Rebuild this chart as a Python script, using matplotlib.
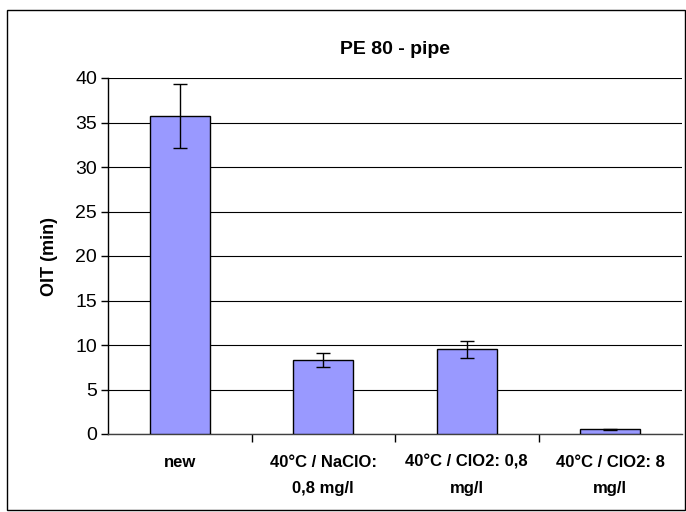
import matplotlib
matplotlib.use('Agg')
import matplotlib.pyplot as plt
from matplotlib.patches import Rectangle

# data
categories = ['new', '40°C / NaClO:\n0,8 mg/l', '40°C / ClO2: 0,8\nmg/l', '40°C / ClO2: 8\nmg/l']
oit_values = [35.7, 8.3, 9.5, 0.55]
oit_errors = [3.6, 0.8, 0.95, 0.05]
y_ticks = [0, 5, 10, 15, 20, 25, 30, 35, 40]

plt.rcParams['font.family'] = ['Liberation Sans', 'DejaVu Sans']

fig = plt.figure(figsize=(6.86, 5.12), dpi=100)
ax = fig.add_axes([108 / 686, 78 / 512, 574 / 686, 356 / 512])

# outer chart border
fig.patches.append(Rectangle((7 / 686, 2 / 512), 678 / 686, 500 / 512,
                             transform=fig.transFigure, fill=False,
                             edgecolor='black', linewidth=1.0))

x = list(range(len(categories)))
ax.bar(x, oit_values, width=0.42, color='#9999FF', edgecolor='black',
       linewidth=1.0, zorder=3)
ax.errorbar(x, oit_values, yerr=oit_errors, fmt='none', ecolor='black',
            elinewidth=1.0, capsize=5, capthick=1.0, zorder=4)

ax.set_xlim(-0.5, len(categories) - 0.5)
ax.set_ylim(0, 40)
ax.set_yticks(y_ticks)
ax.set_yticklabels([str(v) for v in y_ticks], fontsize=14)
ax.yaxis.grid(True, color='black', linewidth=0.8, zorder=0)

# category labels centred, ticks at category boundaries
ax.set_xticks(x)
ax.set_xticklabels(categories, fontsize=12, fontweight='bold', linespacing=1.95)
ax.tick_params(axis='x', which='major', length=0, pad=15)
ax.set_xticks([0.5, 1.5, 2.5], minor=True)
ax.tick_params(axis='x', which='minor', length=6, direction='out', width=1)
ax.tick_params(axis='y', length=5, direction='out', width=1, pad=3)

for side in ['top', 'right']:
    ax.spines[side].set_visible(False)
ax.spines['left'].set_linewidth(1)
ax.spines['bottom'].set_linewidth(1)
ax.spines['bottom'].set_color('#404040')

ax.set_ylabel('OIT (min)', fontsize=13, fontweight='bold', labelpad=12)
ax.set_title('PE 80 - pipe', fontsize=14, fontweight='bold', pad=17)

fig.savefig('out.png', dpi=100)
